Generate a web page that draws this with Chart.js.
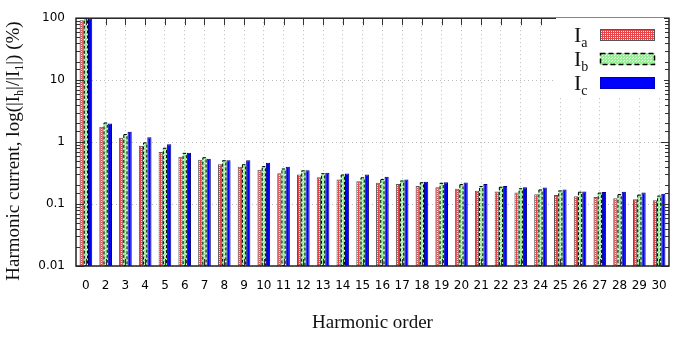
<!DOCTYPE html>
<html>
<head>
<meta charset="utf-8">
<script src="https://cdn.jsdelivr.net/npm/chart.js@4"></script>
<style>
  body { margin: 0; background: #fff; }
  #wrap { width: 683px; height: 338px; }
</style>
</head>
<body>
<div id="wrap"><canvas id="chart"></canvas></div>
<script>
// harmonic orders (1 = fundamental is not shown)
const orders = ['0', '2', '3', '4', '5', '6', '7', '8', '9', '10', '11', '12', '13', '14', '15',
  '16', '17', '18', '19', '20', '21', '22', '23', '24', '25', '26', '27', '28', '29', '30'];

// |Ih|/|I1| in %
const phaseA = [93, 1.77, 1.18, 0.87, 0.69, 0.58, 0.52, 0.44, 0.40, 0.357, 0.315, 0.30, 0.27, 0.25, 0.233,
  0.22, 0.21, 0.195, 0.187, 0.176, 0.164, 0.16, 0.154, 0.144, 0.14, 0.134, 0.13, 0.124, 0.12, 0.115];
const phaseB = [100, 2.07, 1.35, 0.99, 0.81, 0.67, 0.57, 0.51, 0.44, 0.41, 0.375, 0.35, 0.315, 0.30, 0.27,
  0.254, 0.24, 0.225, 0.22, 0.21, 0.196, 0.19, 0.18, 0.172, 0.166, 0.158, 0.153, 0.145, 0.142, 0.137];
const phaseC = [100, 1.99, 1.47, 1.2, 0.92, 0.67, 0.54, 0.51, 0.51, 0.466, 0.40, 0.35, 0.32, 0.31, 0.30,
  0.277, 0.25, 0.23, 0.225, 0.222, 0.21, 0.196, 0.187, 0.185, 0.172, 0.16, 0.156, 0.158, 0.154, 0.147];

const yTicks = [0.01, 0.1, 1, 10, 100];
const seriesNames = ['a', 'b', 'c'];

function makePattern(bg, dot, size, dots) {
  const c = document.createElement('canvas');
  c.width = c.height = size;
  const x = c.getContext('2d');
  x.fillStyle = bg;
  x.fillRect(0, 0, size, size);
  x.fillStyle = dot;
  dots.forEach(d => x.fillRect(d[0], d[1], 1, 1));
  return x.createPattern(c, 'repeat');
}

const redFill = makePattern('#e8454a', '#fbe6e6', 2, [[1, 1]]);
const greenFill = makePattern('#98ef98', '#e8ffe8', 3, [[0, 0], [2, 1]]);
const blueFill = '#0000ff';

const isMajor = v => Math.abs(Math.log10(v) - Math.round(Math.log10(v))) < 1e-6;

const serif = '"Liberation Serif", serif';

function drawSubText(ctx, parts, x, y, size) {
  // parts: [text, isSub]
  let cx = x;
  parts.forEach(p => {
    ctx.font = (p[1] ? Math.round(size * 0.65) : size) + 'px ' + serif;
    ctx.fillText(p[0], cx, p[1] ? y + size * 0.22 : y);
    cx += ctx.measureText(p[0]).width;
  });
  return cx - x;
}

function measureSubText(ctx, parts, size) {
  let w = 0;
  parts.forEach(p => {
    ctx.font = (p[1] ? Math.round(size * 0.65) : size) + 'px ' + serif;
    w += ctx.measureText(p[0]).width;
  });
  return w;
}

const frame = {
  id: 'frame',
  afterDatasetsDraw(chart) {
    const ctx = chart.ctx;
    // dashed outline of phase b bars
    const meta = chart.getDatasetMeta(1);
    ctx.save();
    ctx.strokeStyle = '#000';
    ctx.lineWidth = 1;
    ctx.setLineDash([3, 2]);
    meta.data.forEach(b => {
      const p = b.getProps(['x', 'y', 'base', 'width'], true);
      ctx.strokeRect(p.x - p.width / 2 + 0.5, p.y + 0.5, p.width - 1, p.base - p.y - 1);
    });
    ctx.restore();
  },
  afterDraw(chart) {
    const ctx = chart.ctx;
    const a = chart.chartArea;
    const ys = chart.scales.y, xs = chart.scales.x;
    ctx.save();
    ctx.strokeStyle = '#333';
    ctx.lineWidth = 1;
    ctx.beginPath();
    ys.ticks.forEach(t => {
      const y = Math.round(ys.getPixelForValue(t.value)) + 0.5;
      const len = isMajor(t.value) ? 8 : 4;
      ctx.moveTo(a.left, y); ctx.lineTo(a.left + len, y);
      ctx.moveTo(a.right, y); ctx.lineTo(a.right - len, y);
    });
    orders.forEach((o, i) => {
      const x = Math.round(xs.getPixelForValue(i)) + 0.5;
      ctx.moveTo(x, a.top); ctx.lineTo(x, a.top + 7);
      ctx.moveTo(x, a.bottom); ctx.lineTo(x, a.bottom - 7);
    });
    ctx.stroke();
    ctx.lineWidth = 1.5;
    ctx.strokeStyle = '#222';
    ctx.strokeRect(a.left, a.top, a.right - a.left, a.bottom - a.top);

    // y title with subscripts
    const yParts = [['Harmonic current, log(|I', false], ['h', true], ['|/|I', false], ['1', true], ['|) (%)', false]];
    const size = 19;
    const w = measureSubText(ctx, yParts, size);
    ctx.save();
    ctx.translate(19, 151);
    ctx.rotate(-Math.PI / 2);
    ctx.fillStyle = '#111';
    ctx.textBaseline = 'alphabetic';
    drawSubText(ctx, yParts, -w / 2, 0, size);
    ctx.restore();

    // legend
    ctx.fillStyle = '#fff';
    ctx.fillRect(556, 18, 108, 78);
    const fills = [redFill, greenFill, blueFill];
    const centers = [35, 59, 83];
    seriesNames.forEach((n, i) => {
      const cy = centers[i];
      ctx.fillStyle = '#111';
      drawSubText(ctx, [['I', false], [n, true]], 574, cy + 7, 22);
      ctx.fillStyle = fills[i];
      ctx.fillRect(600, cy - 6, 55, 12);
      ctx.lineWidth = 1;
      if (i === 0) { ctx.strokeStyle = '#555'; ctx.setLineDash([]); }
      if (i === 1) { ctx.strokeStyle = '#000'; ctx.setLineDash([5, 3]); ctx.lineWidth = 1.5; }
      if (i === 2) { ctx.strokeStyle = '#00007a'; ctx.setLineDash([1, 1]); }
      ctx.strokeRect(600.5, cy - 5.5, 54, 11);
      ctx.setLineDash([]);
    });
    ctx.restore();
  }
};

new Chart(document.getElementById('chart'), {
  type: 'bar',
  data: {
    labels: orders,
    datasets: [
      { label: 'Ia', data: phaseA, backgroundColor: redFill, borderColor: '#555', borderWidth: 1 },
      { label: 'Ib', data: phaseB, backgroundColor: greenFill, borderWidth: 0 },
      { label: 'Ic', data: phaseC, backgroundColor: blueFill, borderColor: '#00007a', borderWidth: 1 }
    ]
  },
  options: {
    responsive: true,
    maintainAspectRatio: false,
    animation: false,
    devicePixelRatio: 1,
    layout: { padding: { left: 0, right: 14, top: 13, bottom: 0 } },
    datasets: { bar: { categoryPercentage: 0.64, barPercentage: 1.0 } },
    plugins: { legend: { display: false }, tooltip: { enabled: false } },
    scales: {
      x: {
        afterFit(s) { s.height = 72; },
        grid: { offset: false, color: '#bbb', drawTicks: false, lineWidth: 1 },
        border: { display: false, dash: [1, 3] },
        ticks: { color: '#000', padding: 13, font: { family: 'DejaVu Sans', size: 12 }, maxRotation: 0, autoSkip: false },
        title: { display: true, text: 'Harmonic order', color: '#111', font: { family: serif, size: 19 }, padding: { top: 14 } }
      },
      y: {
        type: 'logarithmic',
        min: 0.01,
        max: 100,
        afterFit(s) { s.width = 76; },
        grid: { color: c => (c.tick && isMajor(c.tick.value)) ? '#bbb' : 'rgba(0,0,0,0)', drawTicks: false, lineWidth: 1 },
        border: { display: false, dash: [1, 3] },
        ticks: {
          autoSkip: false,
          color: '#000',
          padding: 11,
          font: { family: 'DejaVu Sans', size: 12 },
          callback: v => yTicks.some(t => Math.abs(t - v) / t < 1e-6) ? String(yTicks.find(t => Math.abs(t - v) / t < 1e-6)) : ''
        }
      }
    }
  },
  plugins: [frame]
});
</script>
</body>
</html>
